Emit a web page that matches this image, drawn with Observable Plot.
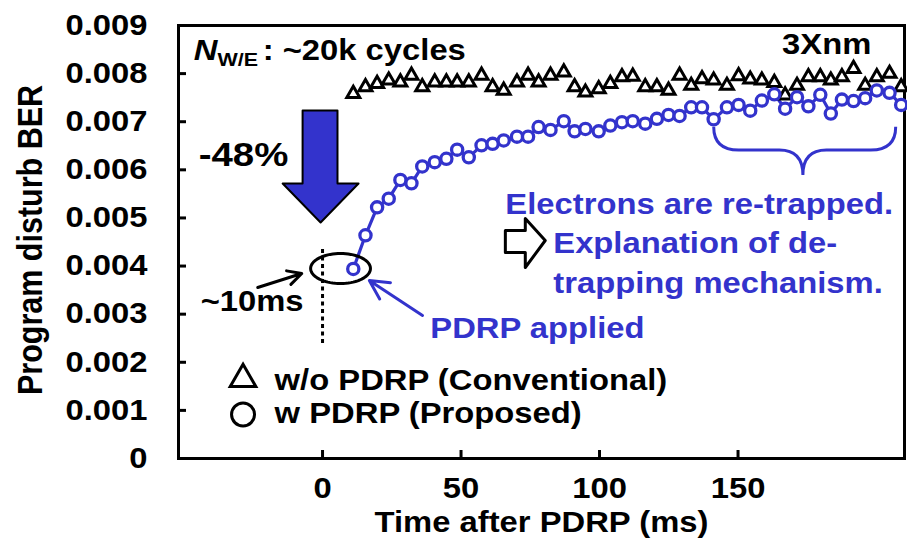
<!DOCTYPE html>
<html><head><meta charset="utf-8">
<script src="https://cdn.jsdelivr.net/npm/d3@7"></script>
<script src="https://cdn.jsdelivr.net/npm/@observablehq/plot@0.6"></script>
<style>
html,body{margin:0;padding:0;background:#fff;}
#chart{width:907px;height:543px;overflow:hidden;}
</style></head><body><div id="chart"></div>
<script>
// ---- data ----
const timeMs = [11.1, 15.5, 19.7, 23.9, 28.1, 32.1, 36.0, 40.5, 44.7, 48.6, 52.8, 57.4,
  61.4, 65.4, 70.2, 74.2, 78.0, 82.3, 87.1, 91.0, 94.9, 99.7, 103.9, 108.1,
  112.0, 116.5, 120.7, 124.9, 128.9, 133.1, 137.0, 141.2, 146.0, 150.2, 154.4, 158.6,
  163.1, 167.0, 171.3, 175.4, 179.7, 183.5, 187.5, 191.7, 195.9, 200.1, 204.7, 208.9];
const berConventional = [0.00758, 0.00772, 0.00779, 0.00786, 0.00782, 0.00796, 0.00772, 0.00782, 0.00782, 0.00782, 0.00782, 0.00796,
  0.00772, 0.00765, 0.00782, 0.00796, 0.00782, 0.00796, 0.00803, 0.00772, 0.00761, 0.00768, 0.00779, 0.00793,
  0.00794, 0.00772, 0.00772, 0.00765, 0.00796, 0.00775, 0.00789, 0.00786, 0.00775, 0.00795, 0.00788, 0.00786,
  0.00781, 0.00755, 0.00775, 0.00793, 0.00793, 0.00786, 0.00793, 0.00810, 0.00775, 0.00793, 0.00800, 0.00772];
const berProposed = [0.00394, 0.00464, 0.00522, 0.00540, 0.00579, 0.00572, 0.00607, 0.00616, 0.00623, 0.00642, 0.00626, 0.00651,
  0.00654, 0.00661, 0.00669, 0.00669, 0.00689, 0.00683, 0.00701, 0.00680, 0.00685, 0.00680, 0.00692, 0.00699,
  0.00701, 0.00696, 0.00706, 0.00714, 0.00712, 0.00730, 0.00730, 0.00705, 0.00730, 0.00735, 0.00723, 0.00744,
  0.00757, 0.00727, 0.00751, 0.00732, 0.00756, 0.00717, 0.00746, 0.00743, 0.00749, 0.00765, 0.00760, 0.00735];
const xTicks = [0, 50, 100, 150];
const yTicks = [0, 0.001, 0.002, 0.003, 0.004, 0.005, 0.006, 0.007, 0.008, 0.009];
const yTickLabels = ["0", "0.001", "0.002", "0.003", "0.004", "0.005", "0.006", "0.007", "0.008", "0.009"];
const legendLabels = ["w/o PDRP (Conventional)", "w PDRP (Proposed)"];

// ---- styling ----
const BLUE = "#3333cc";
const FONT = "'Liberation Sans', Arial, Helvetica, sans-serif";
const FS = 29;
const STRETCH = 1.13;

const conv = timeMs.map((t, i) => ({t, ber: berConventional[i]}));
const prop = timeMs.map((t, i) => ({t, ber: berProposed[i]}));

// annotation geometry (in data units)
const bigArrow = [[-7.2,0.007233],[5.4,0.007233],[5.4,0.005716],[13,0.005716],[-0.7,0.004905],[-14.4,0.005716],[-7.2,0.005716],[-7.2,0.007233]];
const outlineArrow = [[66,0.004739],[73.2,0.004739],[73.2,0.004988],[80.4,0.004531],[73.2,0.00397],[73.2,0.004282],[66,0.004282],[66,0.004739]];
const ell = {cx: 6.5, cy: 0.003949, rx: 10.8, ry: 0.000312};
const ellipsePts = d3.range(0, 73).map(k => {
  const a = k / 72 * 2 * Math.PI;
  return [ell.cx + ell.rx * Math.cos(a), ell.cy + ell.ry * Math.sin(a)];
});

const blackTexts = [
  {x: -44.7, y: 0.00630, text: "-48%", size: 34},
  {x: -44.0, y: 0.003263, text: "~10ms", size: FS},
  {x: 165.9, y: 0.008605, text: "3Xnm", size: FS},
  {x: -17.3, y: 0.001621, text: legendLabels[0], size: FS},
  {x: -17.3, y: 0.000935, text: legendLabels[1], size: FS},
  {x: -21.6, y: 0.00848, text: ": ~20k cycles", size: FS}
];
const blueTexts = [
  {x: 38.9, y: 0.002702, text: "PDRP applied"},
  {x: 66.0, y: 0.005279, text: "Electrons are re-trapped."},
  {x: 83.3, y: 0.004469, text: "Explanation of de-"},
  {x: 83.3, y: 0.003637, text: "trapping mechanism."}
];

const plot = Plot.plot({
  width: 907,
  height: 543,
  marginLeft: 178,
  marginRight: 3,
  marginTop: 25,
  marginBottom: 85,
  style: {fontFamily: FONT, fontWeight: "bold", fontSize: FS + "px", background: "white", color: "black", overflow: "visible"},
  x: {domain: [-52, 210.1], label: null},
  y: {domain: [0, 0.009], label: null},
  marks: [
    Plot.axisX({ticks: xTicks, tickSize: -8, tickPadding: 27, strokeWidth: 3, fontSize: FS, fontWeight: "bold", label: null, tickFormat: d => String(d)}),
    Plot.axisY({ticks: yTicks, tickSize: -8, tickPadding: 39, strokeWidth: 3, fontSize: FS, fontWeight: "bold", label: null, tickFormat: (d, i) => yTickLabels[yTicks.indexOf(d)]}),
    Plot.frame({stroke: "black", strokeWidth: 3}),
    // data
    Plot.line(prop, {x: "t", y: "ber", stroke: BLUE, strokeWidth: 3.2}),
    Plot.dot(conv, {x: "t", y: "ber", symbol: "triangle", r: 4.8, stroke: "black", strokeWidth: 3, fill: "white"}),
    Plot.dot(prop, {x: "t", y: "ber", r: 5.6, stroke: BLUE, strokeWidth: 3.3, fill: "white"}),
    // annotations
    Plot.line(bigArrow, {x: d => d[0], y: d => d[1], fill: BLUE, stroke: "black", strokeWidth: 2, curve: "linear"}),
    Plot.line(outlineArrow, {x: d => d[0], y: d => d[1], fill: "white", stroke: "black", strokeWidth: 3, curve: "linear"}),
    Plot.line(ellipsePts, {x: d => d[0], y: d => d[1], stroke: "black", strokeWidth: 3, curve: "linear"}),
    Plot.ruleX([0], {y1: 0.00239, y2: 0.004365, stroke: "black", strokeWidth: 3, strokeDasharray: "4,3.5"}),
    Plot.arrow([{x1: -23.4, y1: 0.003554, x2: -7.5, y2: 0.003845}], {x1: "x1", y1: "y1", x2: "x2", y2: "y2", stroke: "black", strokeWidth: 3, headLength: 14, headAngle: 55}),
    Plot.arrow([{x1: 36.1, y1: 0.002972, x2: 16.9, y2: 0.00370}], {x1: "x1", y1: "y1", x2: "x2", y2: "y2", stroke: BLUE, strokeWidth: 3, headLength: 16, headAngle: 55}),
    // legend symbols
    Plot.dot([{x: -28.7, y: 0.001650}], {x: "x", y: "y", symbol: "triangle", r: 9.5, stroke: "black", strokeWidth: 3, fill: "white"}),
    Plot.dot([{x: -28.7, y: 0.000915}], {x: "x", y: "y", r: 11.5, stroke: "black", strokeWidth: 3, fill: "white"}),
    // texts
    Plot.text(blackTexts, {x: "x", y: "y", text: "text", fontSize: d => d.size, fill: "black", textAnchor: "start", lineAnchor: "middle", fontWeight: "bold"}),
    Plot.text(blueTexts, {x: "x", y: "y", text: "text", fontSize: FS, fill: BLUE, textAnchor: "start", lineAnchor: "middle", fontWeight: "bold"}),
    Plot.text([{x: -46.5, y: 0.00848, text: "N"}], {x: "x", y: "y", text: "text", fontSize: FS, fontStyle: "italic", fill: "black", textAnchor: "start", lineAnchor: "middle", fontWeight: "bold"}),
    Plot.text([{x: -37.9, y: 0.00828, text: "W/E"}], {x: "x", y: "y", text: "text", fontSize: 19, fill: "black", textAnchor: "start", lineAnchor: "middle", fontWeight: "bold"}),
    // axis titles
    Plot.text(["Time after PDRP (ms)"], {frameAnchor: "bottom", dy: 64, text: d => d, fontSize: FS, fontWeight: "bold", textAnchor: "middle", lineAnchor: "middle"}),
    Plot.text(["Program disturb BER"], {frameAnchor: "left", dx: -148, dy: -2, rotate: -90, text: d => d, fontSize: 30.5, fontWeight: "bold", textAnchor: "middle", lineAnchor: "middle"})
  ]
});

// horizontal stretch of the lettering, as in the reference
plot.querySelectorAll("text").forEach(t => {
  const tr = t.getAttribute("transform");
  if (tr && /^\s*translate\(/.test(tr)) {
    t.setAttribute("transform", tr.replace(/^(\s*translate\([^)]*\))/, `$1 scale(${STRETCH},1)`));
  } else {
    const x = parseFloat(t.getAttribute("x")) || 0;
    t.setAttribute("transform", `translate(${x * (1 - STRETCH)},0) scale(${STRETCH},1) ${tr || ""}`);
  }
});

// curly brace under the re-trapping region, placed through the plot's scales
const sx = plot.scale("x"), sy = plot.scale("y");
const X = v => sx.apply(v), Y = v => sy.apply(v);
const bTop = 0.006886, bMid = 0.006402, bTip = 0.005882;
const bL = 141.4, bC = 173.6, bR = 207.1;
const braceD = `M${X(bL)},${Y(bTop)} Q${X(bL)},${Y(bMid)} ${X(bL + 9)},${Y(bMid)} L${X(bC - 8.5)},${Y(bMid)} Q${X(bC)},${Y(bMid)} ${X(bC)},${Y(bTip)} Q${X(bC)},${Y(bMid)} ${X(bC + 8.5)},${Y(bMid)} L${X(bR - 9)},${Y(bMid)} Q${X(bR)},${Y(bMid)} ${X(bR)},${Y(bTop)}`;
const ns = "http://www.w3.org/2000/svg";
const p = document.createElementNS(ns, "path");
p.setAttribute("d", braceD);
p.setAttribute("fill", "none");
p.setAttribute("stroke", BLUE);
p.setAttribute("stroke-width", 3);
plot.appendChild(p);

document.getElementById("chart").appendChild(plot);
</script>
</body></html>
